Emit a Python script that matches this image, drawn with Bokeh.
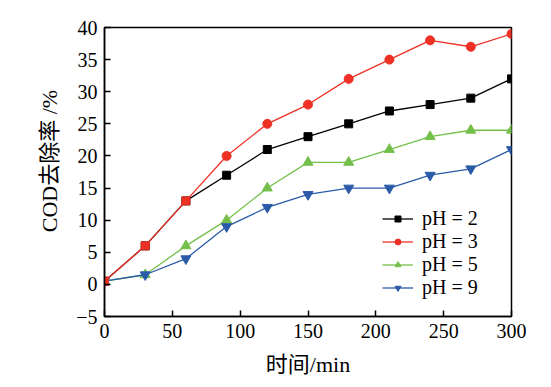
from bokeh.plotting import figure
from bokeh.models import Range1d, Legend, LegendItem, ColumnDataSource, FixedTicker
from bokeh.embed import file_html
from bokeh.resources import INLINE

# ---- data ----
time_min = [0, 30, 60, 90, 120, 150, 180, 210, 240, 270, 300]
ph2 = [0.5, 6, 13, 17, 21, 23, 25, 27, 28, 29, 32]
ph3 = [0.5, 6, 13, 20, 25, 28, 32, 35, 38, 37, 39]
ph5 = [0.5, 1.5, 6, 10, 15, 19, 19, 21, 23, 24, 24]
ph9 = [0.5, 1.5, 4, 9, 12, 14, 15, 15, 17, 18, 21]
labels = ["pH = 2", "pH = 3", "pH = 5", "pH = 9"]
x_ticks = [0, 50, 100, 150, 200, 250, 300]
y_ticks = [-5, 0, 5, 10, 15, 20, 25, 30, 35, 40]

BLACK = "#000000"
RED = "#ee3124"
GREEN = "#74bf4a"
BLUE = "#2b5aa8"
SERIF = "'Liberation Serif', 'Noto Sans CJK SC', serif"

p = figure(width=543, height=379, output_backend="svg", toolbar_location=None,
           x_range=Range1d(0, 300), y_range=Range1d(-5, 40),
           min_border_left=104, min_border_top=27, min_border_right=32, min_border_bottom=61)

p.grid.visible = False
p.background_fill_color = "white"
p.border_fill_color = "white"
p.outline_line_color = "black"
p.outline_line_width = 1.5

for ax in (p.xaxis[0], p.yaxis[0]):
    ax.axis_line_width = 1.5
    ax.major_tick_line_width = 1.5
    ax.major_tick_in = 6
    ax.major_tick_out = 0
    ax.minor_tick_line_color = None
    ax.major_label_text_font = SERIF
    ax.major_label_text_font_size = "20px"
    ax.major_label_text_color = "black"
    ax.axis_label_text_font = SERIF
    ax.axis_label_text_font_size = "22px"
    ax.axis_label_text_font_style = "normal"
    ax.axis_label_text_color = "black"

p.xaxis.ticker = FixedTicker(ticks=x_ticks)
p.yaxis.ticker = FixedTicker(ticks=y_ticks)
p.yaxis.major_label_overrides = {-5: "\u22125"}
p.xaxis.axis_label = "时间/min"
p.yaxis.axis_label = "\u2003COD去除率 /%"
p.xaxis.major_label_standoff = 7
p.yaxis.major_label_standoff = 7
p.xaxis.axis_label_standoff = 11
p.yaxis.axis_label_standoff = 11

lw = 1.3
src = ColumnDataSource(dict(x=time_min, a=ph2, b=ph3, c=ph5, d=ph9))

l5 = p.line("x", "c", source=src, color=GREEN, line_width=lw)
m5 = p.scatter("x", "c", source=src, marker="triangle", size=10, color=GREEN)
l9 = p.line("x", "d", source=src, color=BLUE, line_width=lw)
m9 = p.scatter("x", "d", source=src, marker="inverted_triangle", size=10, color=BLUE)
l2 = p.line("x", "a", source=src, color=BLACK, line_width=lw)
m2 = p.scatter("x", "a", source=src, marker="square", size=8, color=BLACK)
l3 = p.line("x", "b", source=src, color=RED, line_width=lw)
early = [i for i, t in enumerate(time_min) if t <= 60]
late = [i for i, t in enumerate(time_min) if t > 60]
m3a = p.scatter([time_min[i] for i in early], [ph3[i] for i in early], marker="square", size=8, color=RED)
m3 = p.scatter([time_min[i] for i in late], [ph3[i] for i in late], marker="circle", size=9, color=RED)

legend = Legend(items=[
    LegendItem(label=labels[0], renderers=[l2, m2]),
    LegendItem(label=labels[1], renderers=[l3, m3]),
    LegendItem(label=labels[2], renderers=[l5, m5]),
    LegendItem(label=labels[3], renderers=[l9, m9]),
], location=(278, 17))
legend.border_line_color = None
legend.background_fill_alpha = 0
legend.padding = 0
legend.margin = 0
legend.spacing = 0
legend.glyph_width = 31
legend.glyph_height = 15
legend.label_height = 23
legend.label_standoff = 9
legend.label_text_font = SERIF
legend.label_text_font_size = "20px"
legend.label_text_color = "black"
p.add_layout(legend, "center")

open("out.html", "w").write(file_html(p, INLINE))
